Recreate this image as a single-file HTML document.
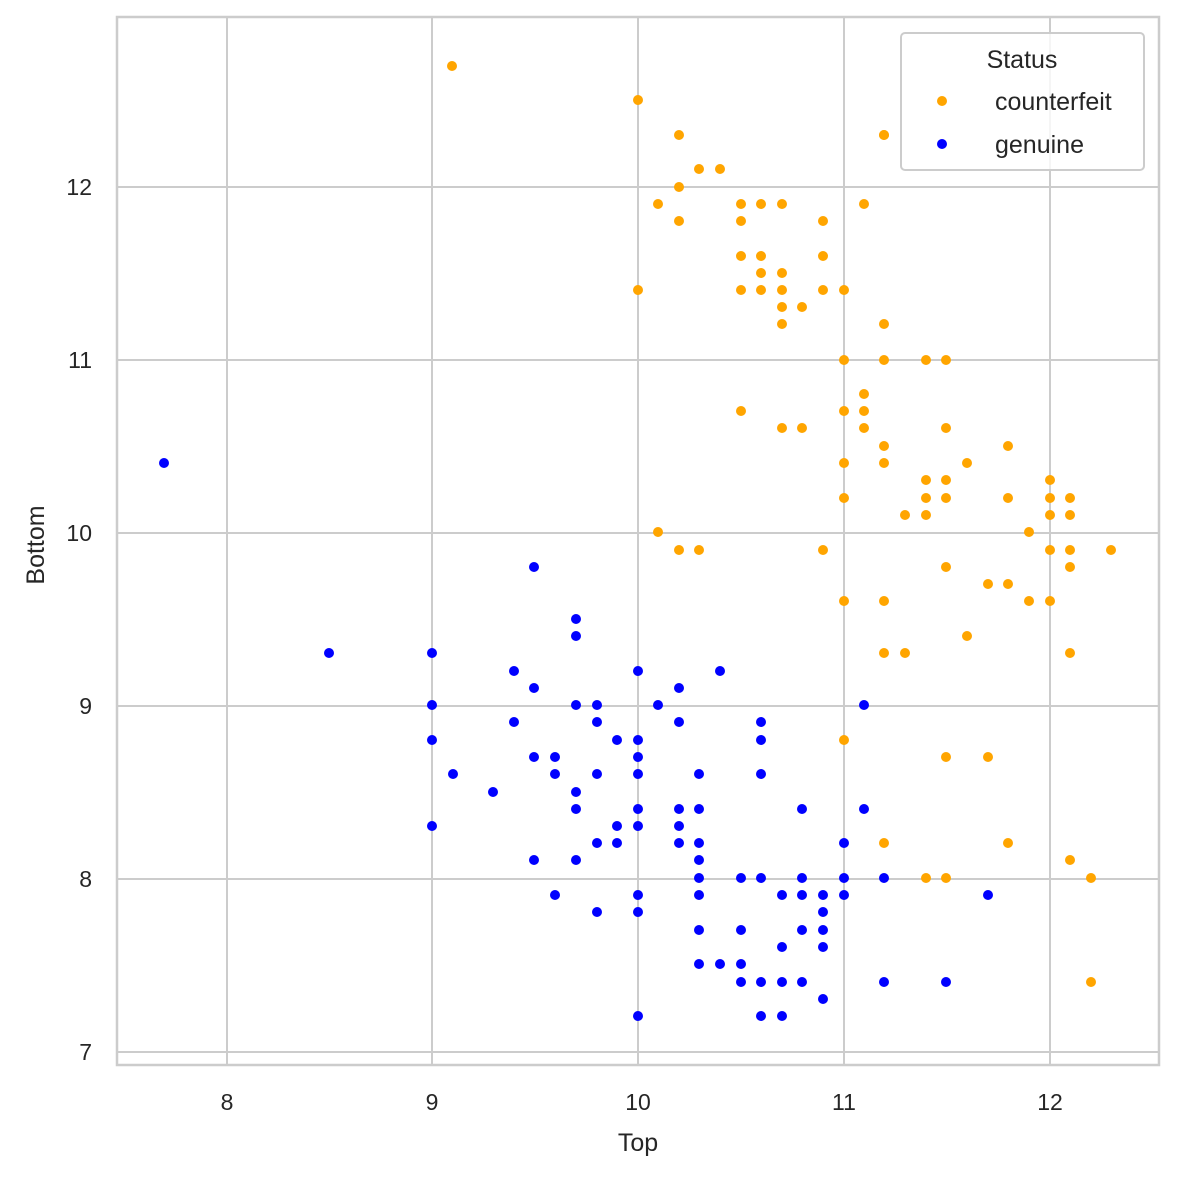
<!DOCTYPE html>
<html><head><meta charset="utf-8"><style>body{margin:0;background:#fff}svg{display:block}</style></head><body>
<svg width="1178" height="1177" xmlns="http://www.w3.org/2000/svg" font-family="Liberation Sans, sans-serif">
<rect width="1178" height="1177" fill="#fff"/>
<g stroke="#cccccc" stroke-width="2">
<line x1="227" y1="17" x2="227" y2="1065"/><line x1="432" y1="17" x2="432" y2="1065"/><line x1="638" y1="17" x2="638" y2="1065"/><line x1="844" y1="17" x2="844" y2="1065"/><line x1="1050" y1="17" x2="1050" y2="1065"/>
<line x1="117" y1="187" x2="1159" y2="187"/><line x1="117" y1="360" x2="1159" y2="360"/><line x1="117" y1="533" x2="1159" y2="533"/><line x1="117" y1="706" x2="1159" y2="706"/><line x1="117" y1="879" x2="1159" y2="879"/><line x1="117" y1="1052" x2="1159" y2="1052"/>
</g>
<rect x="117" y="17" width="1042" height="1048" fill="none" stroke="#cccccc" stroke-width="2.5"/>
<g font-size="23" fill="#262626" text-anchor="middle">
<text x="227" y="1110">8</text><text x="432" y="1110">9</text><text x="638" y="1110">10</text><text x="844" y="1110">11</text><text x="1050" y="1110">12</text>
</g>
<g font-size="23" fill="#262626" text-anchor="end">
<text x="92" y="195">12</text><text x="92" y="368">11</text><text x="92" y="541">10</text><text x="92" y="714">9</text><text x="92" y="887">8</text><text x="92" y="1060">7</text>
</g>
<text x="638" y="1151" font-size="25" fill="#262626" text-anchor="middle">Top</text>
<text transform="translate(44,545) rotate(-90)" font-size="25" fill="#262626" text-anchor="middle">Bottom</text>
<g fill="#ffa500">
<circle cx="452" cy="66" r="5"/><circle cx="638" cy="100" r="5"/><circle cx="679" cy="135" r="5"/><circle cx="884" cy="135" r="5"/><circle cx="679" cy="187" r="5"/><circle cx="699" cy="169" r="5"/><circle cx="720" cy="169" r="5"/><circle cx="658" cy="204" r="5"/><circle cx="679" cy="221" r="5"/><circle cx="741" cy="204" r="5"/><circle cx="741" cy="221" r="5"/><circle cx="761" cy="204" r="5"/><circle cx="782" cy="204" r="5"/><circle cx="823" cy="221" r="5"/><circle cx="864" cy="204" r="5"/><circle cx="741" cy="256" r="5"/><circle cx="761" cy="256" r="5"/><circle cx="823" cy="256" r="5"/><circle cx="761" cy="273" r="5"/><circle cx="782" cy="273" r="5"/><circle cx="741" cy="290" r="5"/><circle cx="761" cy="290" r="5"/><circle cx="782" cy="290" r="5"/><circle cx="823" cy="290" r="5"/><circle cx="844" cy="290" r="5"/><circle cx="638" cy="290" r="5"/><circle cx="782" cy="307" r="5"/><circle cx="802" cy="307" r="5"/><circle cx="782" cy="324" r="5"/><circle cx="884" cy="324" r="5"/><circle cx="844" cy="360" r="5"/><circle cx="884" cy="360" r="5"/><circle cx="926" cy="360" r="5"/><circle cx="946" cy="360" r="5"/><circle cx="864" cy="394" r="5"/><circle cx="741" cy="411" r="5"/><circle cx="844" cy="411" r="5"/><circle cx="864" cy="411" r="5"/><circle cx="782" cy="428" r="5"/><circle cx="802" cy="428" r="5"/><circle cx="864" cy="428" r="5"/><circle cx="946" cy="428" r="5"/><circle cx="884" cy="446" r="5"/><circle cx="1008" cy="446" r="5"/><circle cx="844" cy="463" r="5"/><circle cx="884" cy="463" r="5"/><circle cx="967" cy="463" r="5"/><circle cx="926" cy="480" r="5"/><circle cx="946" cy="480" r="5"/><circle cx="1050" cy="480" r="5"/><circle cx="844" cy="498" r="5"/><circle cx="926" cy="498" r="5"/><circle cx="946" cy="498" r="5"/><circle cx="1008" cy="498" r="5"/><circle cx="1050" cy="498" r="5"/><circle cx="1070" cy="498" r="5"/><circle cx="905" cy="515" r="5"/><circle cx="926" cy="515" r="5"/><circle cx="1050" cy="515" r="5"/><circle cx="1070" cy="515" r="5"/><circle cx="1029" cy="532" r="5"/><circle cx="658" cy="532" r="5"/><circle cx="679" cy="550" r="5"/><circle cx="699" cy="550" r="5"/><circle cx="823" cy="550" r="5"/><circle cx="1050" cy="550" r="5"/><circle cx="1070" cy="550" r="5"/><circle cx="1111" cy="550" r="5"/><circle cx="946" cy="567" r="5"/><circle cx="1070" cy="567" r="5"/><circle cx="988" cy="584" r="5"/><circle cx="1008" cy="584" r="5"/><circle cx="844" cy="601" r="5"/><circle cx="884" cy="601" r="5"/><circle cx="1029" cy="601" r="5"/><circle cx="1050" cy="601" r="5"/><circle cx="967" cy="636" r="5"/><circle cx="884" cy="653" r="5"/><circle cx="905" cy="653" r="5"/><circle cx="1070" cy="653" r="5"/><circle cx="946" cy="757" r="5"/><circle cx="988" cy="757" r="5"/><circle cx="844" cy="740" r="5"/><circle cx="884" cy="843" r="5"/><circle cx="1008" cy="843" r="5"/><circle cx="1070" cy="860" r="5"/><circle cx="926" cy="878" r="5"/><circle cx="946" cy="878" r="5"/><circle cx="1091" cy="878" r="5"/><circle cx="1091" cy="982" r="5"/><circle cx="884" cy="135" r="5"/>
</g>
<g fill="#0000ff">
<circle cx="164" cy="463" r="5"/><circle cx="329" cy="653" r="5"/><circle cx="432" cy="653" r="5"/><circle cx="534" cy="567" r="5"/><circle cx="576" cy="619" r="5"/><circle cx="576" cy="636" r="5"/><circle cx="432" cy="705" r="5"/><circle cx="514" cy="671" r="5"/><circle cx="534" cy="688" r="5"/><circle cx="576" cy="705" r="5"/><circle cx="597" cy="705" r="5"/><circle cx="638" cy="671" r="5"/><circle cx="658" cy="705" r="5"/><circle cx="679" cy="688" r="5"/><circle cx="720" cy="671" r="5"/><circle cx="864" cy="705" r="5"/><circle cx="432" cy="740" r="5"/><circle cx="514" cy="722" r="5"/><circle cx="597" cy="722" r="5"/><circle cx="617" cy="740" r="5"/><circle cx="638" cy="740" r="5"/><circle cx="679" cy="722" r="5"/><circle cx="761" cy="722" r="5"/><circle cx="761" cy="740" r="5"/><circle cx="453" cy="774" r="5"/><circle cx="493" cy="792" r="5"/><circle cx="534" cy="757" r="5"/><circle cx="555" cy="757" r="5"/><circle cx="555" cy="774" r="5"/><circle cx="576" cy="792" r="5"/><circle cx="597" cy="774" r="5"/><circle cx="638" cy="757" r="5"/><circle cx="638" cy="774" r="5"/><circle cx="699" cy="774" r="5"/><circle cx="761" cy="774" r="5"/><circle cx="432" cy="826" r="5"/><circle cx="576" cy="809" r="5"/><circle cx="638" cy="809" r="5"/><circle cx="679" cy="809" r="5"/><circle cx="699" cy="809" r="5"/><circle cx="802" cy="809" r="5"/><circle cx="864" cy="809" r="5"/><circle cx="617" cy="826" r="5"/><circle cx="638" cy="826" r="5"/><circle cx="679" cy="826" r="5"/><circle cx="597" cy="843" r="5"/><circle cx="617" cy="843" r="5"/><circle cx="679" cy="843" r="5"/><circle cx="699" cy="843" r="5"/><circle cx="844" cy="843" r="5"/><circle cx="534" cy="860" r="5"/><circle cx="576" cy="860" r="5"/><circle cx="699" cy="860" r="5"/><circle cx="555" cy="895" r="5"/><circle cx="638" cy="895" r="5"/><circle cx="699" cy="878" r="5"/><circle cx="741" cy="878" r="5"/><circle cx="761" cy="878" r="5"/><circle cx="802" cy="878" r="5"/><circle cx="844" cy="878" r="5"/><circle cx="884" cy="878" r="5"/><circle cx="699" cy="895" r="5"/><circle cx="782" cy="895" r="5"/><circle cx="802" cy="895" r="5"/><circle cx="823" cy="895" r="5"/><circle cx="844" cy="895" r="5"/><circle cx="988" cy="895" r="5"/><circle cx="597" cy="912" r="5"/><circle cx="638" cy="912" r="5"/><circle cx="823" cy="912" r="5"/><circle cx="699" cy="930" r="5"/><circle cx="741" cy="930" r="5"/><circle cx="802" cy="930" r="5"/><circle cx="823" cy="930" r="5"/><circle cx="782" cy="947" r="5"/><circle cx="823" cy="947" r="5"/><circle cx="699" cy="964" r="5"/><circle cx="720" cy="964" r="5"/><circle cx="741" cy="964" r="5"/><circle cx="741" cy="982" r="5"/><circle cx="761" cy="982" r="5"/><circle cx="782" cy="982" r="5"/><circle cx="802" cy="982" r="5"/><circle cx="884" cy="982" r="5"/><circle cx="946" cy="982" r="5"/><circle cx="823" cy="999" r="5"/><circle cx="638" cy="1016" r="5"/><circle cx="761" cy="1016" r="5"/><circle cx="782" cy="1016" r="5"/>
</g>
<rect x="901" y="33" width="243" height="137" rx="4" fill="#ffffff" fill-opacity="0.8" stroke="#cccccc" stroke-width="2"/>
<text x="1022" y="68" font-size="25" fill="#262626" text-anchor="middle">Status</text>
<circle cx="942" cy="101" r="5" fill="#ffa500"/>
<text x="995" y="110" font-size="25" fill="#262626">counterfeit</text>
<circle cx="942" cy="144" r="5" fill="#0000ff"/>
<text x="995" y="153" font-size="25" fill="#262626">genuine</text>
</svg>
</body></html>
